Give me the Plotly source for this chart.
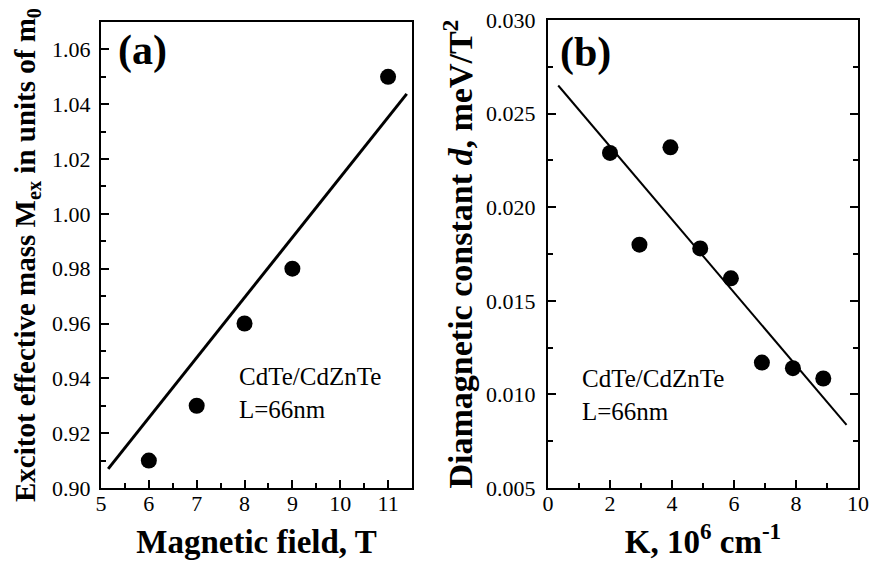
import plotly.graph_objects as go

# Panel (a) data
field_T = [6, 7, 8, 9, 11]
mass_ex = [0.910, 0.930, 0.960, 0.980, 1.050]
fit_a_x = [5.15, 11.39]
fit_a_y = [0.907, 1.0438]

# Panel (b) data
k_vals = [2.0, 2.95, 3.95, 4.91, 5.9, 6.9, 7.9, 8.88]
dia_d = [0.0229, 0.0180, 0.0232, 0.0178, 0.0162, 0.0117, 0.0114, 0.01085]
fit_b_x = [0.33, 9.63]
fit_b_y = [0.0265, 0.00837]

FONT = "Liberation Serif, Times New Roman, Times, serif"
fig = go.Figure()

fig.add_trace(go.Scatter(x=field_T, y=mass_ex, mode="markers",
                         marker=dict(color="black", size=16), xaxis="x", yaxis="y",
                         showlegend=False))
fig.add_trace(go.Scatter(x=fit_a_x, y=fit_a_y, mode="lines",
                         line=dict(color="black", width=3), xaxis="x", yaxis="y",
                         showlegend=False))
fig.add_trace(go.Scatter(x=k_vals, y=dia_d, mode="markers",
                         marker=dict(color="black", size=16), xaxis="x2", yaxis="y2",
                         showlegend=False))
fig.add_trace(go.Scatter(x=fit_b_x, y=fit_b_y, mode="lines",
                         line=dict(color="black", width=2), xaxis="x2", yaxis="y2",
                         showlegend=False))

W, H = 872, 565
def xd(a, b):
    return [a / W, b / W]
def yd(top, bottom):
    return [(H - bottom) / H, (H - top) / H]

common = dict(showline=True, linecolor="black", linewidth=2, ticks="inside",
              tickcolor="black", tickwidth=2, ticklen=8, showgrid=False,
              zeroline=False, automargin=False,
              tickfont=dict(family=FONT, size=22, color="black"))

fig.update_layout(
    width=W, height=H, margin=dict(l=0, r=0, t=0, b=0),
    paper_bgcolor="white", plot_bgcolor="white", template="none",
    font=dict(family=FONT, color="black"),
    xaxis=dict(domain=xd(101, 412), range=[5, 11.5], dtick=1, tick0=5,
               mirror=True, anchor="y", ticklabelstandoff=-5,
               minor=dict(ticks="inside", dtick=0.5, ticklen=5, tickwidth=2, tickcolor="black"),
               title=dict(text="<b>Magnetic field, T</b>", font=dict(family=FONT, size=33, color="black"), standoff=14),
               **common),
    yaxis=dict(domain=yd(22, 488), range=[0.90, 1.07], dtick=0.02, tick0=0.90,
               tickformat=".2f", mirror=True, anchor="x", ticklabelstandoff=4,
               minor=dict(ticks="inside", dtick=0.01, ticklen=5, tickwidth=2, tickcolor="black"),
               title=dict(text="<b>Excitot effective mass M<sub>ex</sub> in units of m<sub>0</sub></b>",
                          font=dict(family=FONT, size=29, color="black"), standoff=8),
               **common),
    xaxis2=dict(domain=xd(548, 858), range=[0, 10], dtick=2, tick0=0,
                mirror=True, anchor="y2", ticklabelstandoff=-5,
                minor=dict(ticks="inside", dtick=1, ticklen=5, tickwidth=2, tickcolor="black"),
                title=dict(text="<b>K, 10<sup>6</sup> cm<sup>-1</sup></b>", font=dict(family=FONT, size=33, color="black"), standoff=14),
                **common),
    yaxis2=dict(domain=yd(20, 488), range=[0.005, 0.030], dtick=0.005, tick0=0.005,
                tickformat=".3f", mirror="ticks", anchor="x2", ticklabelstandoff=6,
                minor=dict(ticks="inside", dtick=0.0025, ticklen=5, tickwidth=2, tickcolor="black"),
                title=dict(text="<b>Diamagnetic constant <i>d</i>, meV/T<sup>2</sup></b>",
                           font=dict(family=FONT, size=34, color="black"), standoff=3),
                **common),
)

fig.add_annotation(text="<b>(a)</b>", xref="paper", yref="paper", x=116 / W, y=1 - 51 / H,
                   xanchor="left", yanchor="middle", showarrow=False,
                   font=dict(family=FONT, size=42, color="black"))
fig.add_annotation(text="<b>(b)</b>", xref="paper", yref="paper", x=558 / W, y=1 - 52 / H,
                   xanchor="left", yanchor="middle", showarrow=False,
                   font=dict(family=FONT, size=42, color="black"))
fig.add_annotation(text="CdTe/CdZnTe<br>L=66nm", xref="paper", yref="paper", x=237 / W, y=1 - 393 / H,
                   xanchor="left", yanchor="middle", showarrow=False, align="left",
                   font=dict(family=FONT, size=25, color="black"))
fig.add_annotation(text="CdTe/CdZnTe<br>L=66nm", xref="paper", yref="paper", x=580 / W, y=1 - 395 / H,
                   xanchor="left", yanchor="middle", showarrow=False, align="left",
                   font=dict(family=FONT, size=25, color="black"))

fig.write_html("out.html")
